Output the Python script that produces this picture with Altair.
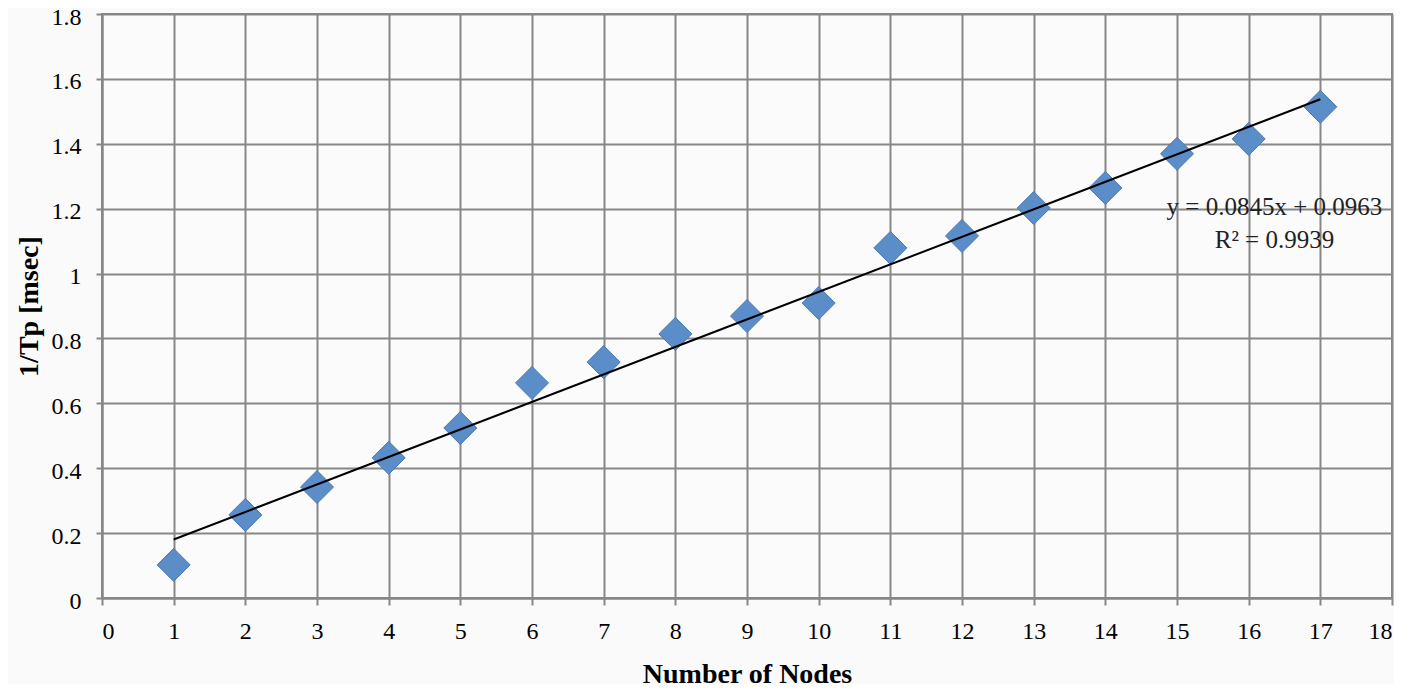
import altair as alt
import pandas as pd

nodes = [1, 2, 3, 4, 5, 6, 7, 8, 9, 10, 11, 12, 13, 14, 15, 16, 17]
inv_tp = [0.102, 0.256, 0.342, 0.432, 0.524, 0.663, 0.727, 0.814, 0.869, 0.909,
          1.079, 1.116, 1.202, 1.264, 1.369, 1.415, 1.514]
eq_lines = ["y = 0.0845x + 0.0963", "R\u00b2 = 0.9939"]
eq_x = [16.36, 16.36]
eq_y = [1.205, 1.103]

df = pd.DataFrame({"nodes": nodes, "inv_tp": inv_tp})
eq_df = pd.DataFrame({"label": eq_lines, "x": eq_x, "y": eq_y})

FONT = "Liberation Serif"
GRID = "#878787"

x_scale = alt.Scale(domain=[0, 18], nice=False, zero=True)
y_scale = alt.Scale(domain=[0, 1.8], nice=False)

x_axis = alt.Axis(values=list(range(0, 19)), format="d", title="Number of Nodes",
                  grid=True, gridColor=GRID, gridWidth=2, domainColor=GRID,
                  domainWidth=2, tickColor=GRID, tickWidth=2, tickSize=7,
                  labelPadding=14, labelFont=FONT, labelFontSize=24,
                  labelColor="#000", titleFont=FONT, titleFontSize=28,
                  titleFontWeight="bold", titleColor="#000", titlePadding=17)
y_axis = alt.Axis(values=[0, 0.2, 0.4, 0.6, 0.8, 1.0, 1.2, 1.4, 1.6, 1.8],
                  format="~g", labelOffset=3,
                  title="1/Tp [msec]", grid=True, gridColor=GRID, gridWidth=2,
                  domainColor=GRID, domainWidth=2, tickColor=GRID, tickWidth=2,
                  tickSize=6, labelPadding=15, labelFont=FONT, labelFontSize=24,
                  labelColor="#000", titleFont=FONT, titleFontSize=28,
                  titleFontWeight="bold", titleColor="#000", titlePadding=8)

base = alt.Chart(df)

points = base.mark_point(shape="diamond", filled=True, size=1090, color="#5b8dc8",
                         stroke="#4a78b0", strokeWidth=1, opacity=1).encode(
    x=alt.X("nodes:Q", scale=x_scale, axis=x_axis),
    y=alt.Y("inv_tp:Q", scale=y_scale, axis=y_axis),
)

trend = base.transform_regression("nodes", "inv_tp", method="linear").mark_line(
    color="#000", strokeWidth=2).encode(
    x=alt.X("nodes:Q", scale=x_scale),
    y=alt.Y("inv_tp:Q", scale=y_scale),
)

eq = alt.Chart(eq_df).mark_text(font=FONT, fontSize=25, color="#222",
                                align="center", baseline="middle").encode(
    x=alt.X("x:Q", scale=x_scale),
    y=alt.Y("y:Q", scale=y_scale),
    text="label:N",
)

chart = alt.layer(points, trend, eq).properties(
    width=1290, height=584,
    background="#fafafa",
    padding={"left": 94, "top": 6, "right": 2, "bottom": 86},
    autosize=alt.AutoSizeParams(type="none"),
).configure_view(stroke=GRID, strokeWidth=2, fill="#fbfbfb")

chart.save("out.html", embed_options={"renderer": "svg", "actions": False})
